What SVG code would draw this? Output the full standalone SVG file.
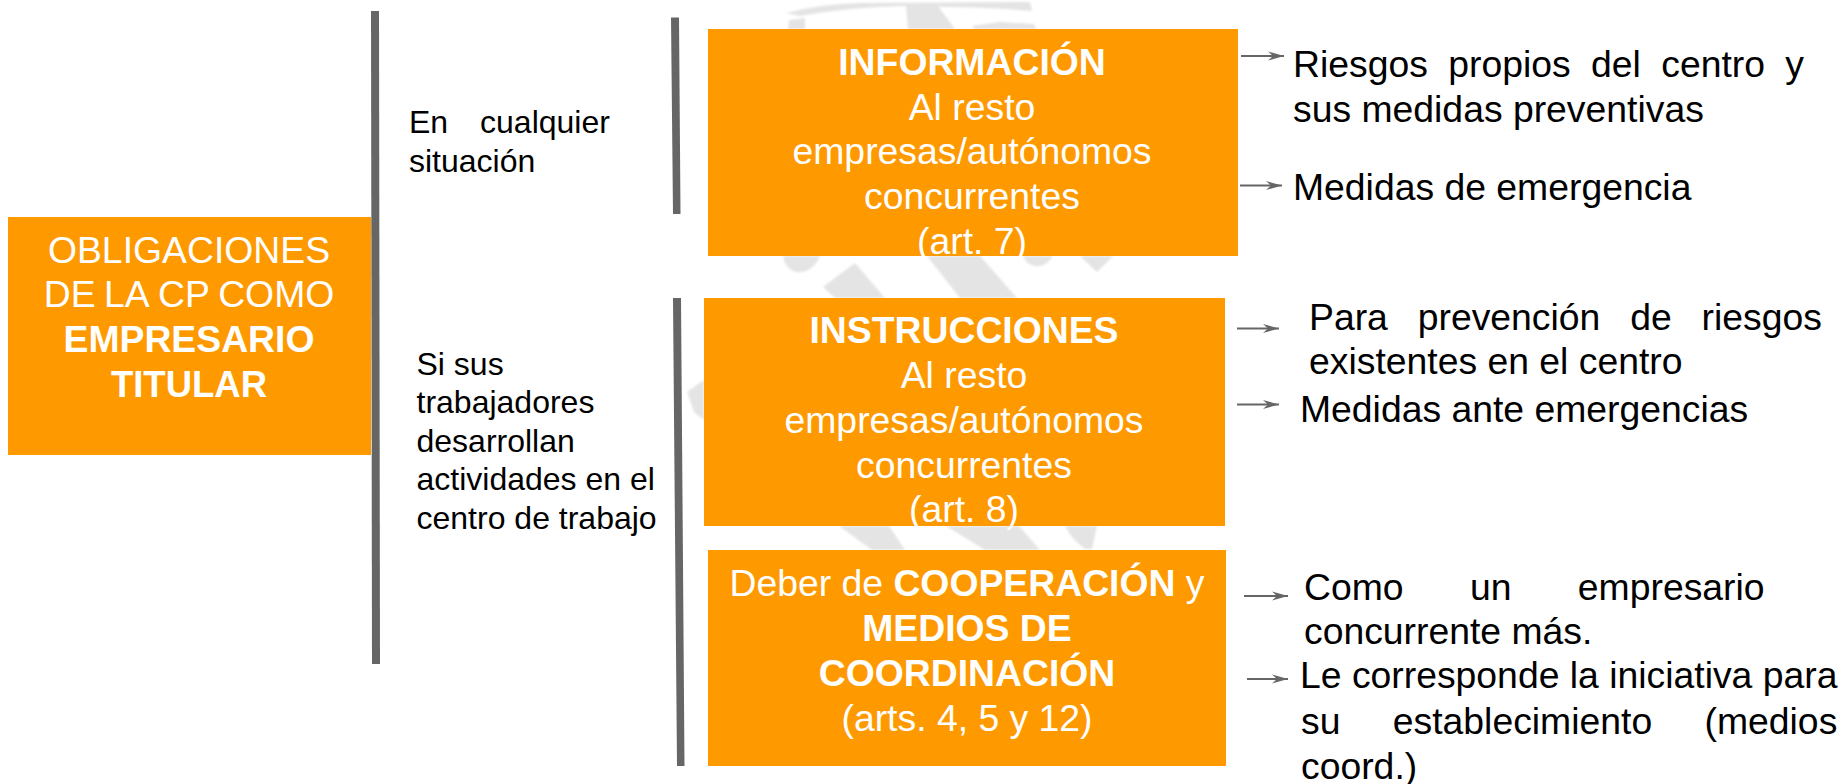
<svg xmlns="http://www.w3.org/2000/svg" width="1841" height="784" viewBox="0 0 1841 784">
<style>
text{font-family:"Liberation Sans",Arial,sans-serif;font-kerning:none}
.box{fill:#ff9900}
.w{fill:#fff;font-size:37.33px;text-anchor:middle}
.b{font-weight:bold}
.k{fill:#000;font-size:37.33px}
.s{fill:#000;font-size:32px}
.bar{fill:#666}
.arr{stroke:#666;stroke-width:2;fill:none;marker-end:url(#ah)}
.wm{fill:#e4e4e4}
</style>
<defs>
<marker id="ah" markerUnits="userSpaceOnUse" markerWidth="18" markerHeight="12" refX="16" refY="6" orient="auto">
<path d="M0 1.500L16 6L0 10.500L5 6Z" fill="#666"/>
</marker>
<filter id="soft" x="-5%" y="-5%" width="110%" height="110%"><feGaussianBlur stdDeviation="0.8"/></filter>
</defs>
<rect width="1841" height="784" fill="#fff"/>
<g id="watermark" class="wm" filter="url(#soft)">
<path d="M786 13Q820 4 860 3L1030 2L1032 11Q985 7 945 7L905 6Q850 7 800 16Z"/>
<path d="M789 20L805 18V29H788Z"/>
<path d="M906 6H938L955 29H908Z"/>
<path d="M972 26L1000 22L1034 24L1036 29H975Z"/>
<path d="M783 256H820Q812 274 795 272Q785 268 783 256Z"/>
<path d="M855 263L823 287L835 298H885Z"/>
<path d="M927 256H980L1017 298H960Z"/>
<path d="M1023 256H1053Q1045 268 1035 266Q1026 264 1023 256Z"/>
<path d="M1080 256H1113L1097 272Z"/>
<path d="M687 392L704 380V420L694 412Z"/>
<path d="M839 526H889L905 550H872Z"/>
<path d="M946 526H1019L1040 550H985Z"/>
<path d="M1065 526H1097L1092 549H1085Q1072 540 1065 526Z"/>
</g>
<g id="connectors">
<path class="bar" d="M371 11H379L380 664H372Z"/>
<path class="bar" d="M671 17.5H679L680.5 214H673Z"/>
<path class="bar" d="M673 298H681L684.5 766H677Z"/>
<path class="arr" d="M1241 56H1284"/>
<path class="arr" d="M1240 185.500H1282"/>
<path class="arr" d="M1237 328.500H1279"/>
<path class="arr" d="M1237 404.500H1279"/>
<path class="arr" d="M1244 596H1288"/>
<path class="arr" d="M1247 679H1288"/>
</g>
<g id="node-obligaciones">
<rect class="box" x="8" y="217" width="363" height="238"/>
<text class="w" x="189" y="262.700">OBLIGACIONES</text>
<text class="w" x="189" y="307.400" word-spacing="-2">DE LA CP COMO</text>
<text class="w b" x="189" y="352">EMPRESARIO</text>
<text class="w b" style="font-size:36.5px" x="189" y="396.700">TITULAR</text>
</g>
<g id="node-situacion">
<text class="s" x="409" y="133" word-spacing="23">En cualquier</text>
<text class="s" x="409" y="171.500">situación</text>
</g>
<g id="node-trabajadores">
<text class="s" x="416.500" y="375">Si sus</text>
<text class="s" x="416.500" y="413.400">trabajadores</text>
<text class="s" x="416.500" y="451.800">desarrollan</text>
<text class="s" x="416.500" y="490.200">actividades en el</text>
<text class="s" x="416.500" y="528.600">centro de trabajo</text>
</g>
<g id="node-informacion">
<rect class="box" x="708" y="29" width="530" height="227"/>
<text class="w b" x="972" y="75">INFORMACIÓN</text>
<text class="w" x="972" y="119.500">Al resto</text>
<text class="w" x="972" y="164">empresas/autónomos</text>
<text class="w" x="972" y="208.800">concurrentes</text>
<text class="w" x="972" y="254">(art. 7)</text>
</g>
<g id="node-instrucciones">
<rect class="box" x="704" y="298" width="521" height="228"/>
<text class="w b" x="964" y="343">INSTRUCCIONES</text>
<text class="w" x="964" y="388">Al resto</text>
<text class="w" x="964" y="433">empresas/autónomos</text>
<text class="w" x="964" y="477.700">concurrentes</text>
<text class="w" x="964" y="522.400">(art. 8)</text>
</g>
<g id="node-cooperacion">
<rect class="box" x="708" y="550" width="518" height="216"/>
<text class="w" x="967" y="596">Deber de <tspan class="b">COOPERACIÓN</tspan> y</text>
<text class="w b" x="967" y="641">MEDIOS DE</text>
<text class="w b" x="967" y="686">COORDINACIÓN</text>
<text class="w" x="967" y="731">(arts. 4, 5 y 12)</text>
</g>
<g id="node-riesgos">
<text class="k" x="1293" y="77.300" word-spacing="10">Riesgos propios del centro y</text>
<text class="k" x="1293" y="121.700">sus medidas preventivas</text>
</g>
<g id="node-emergencia">
<text class="k" x="1293" y="200">Medidas de emergencia</text>
</g>
<g id="node-prevencion">
<text class="k" x="1309" y="330" word-spacing="19.500">Para prevención de riesgos</text>
<text class="k" x="1309" y="373.500">existentes en el centro</text>
</g>
<g id="node-emergencias">
<text class="k" x="1300" y="421.700">Medidas ante emergencias</text>
</g>
<g id="node-empresario">
<text class="k" x="1304" y="600" word-spacing="56">Como un empresario</text>
<text class="k" x="1304" y="644">concurrente más.</text>
</g>
<g id="node-iniciativa">
<text class="k" x="1300" y="688">Le corresponde la iniciativa para</text>
<text class="k" x="1301" y="734" word-spacing="42">su establecimiento (medios</text>
<text class="k" x="1301" y="779">coord.)</text>
</g>
</svg>
